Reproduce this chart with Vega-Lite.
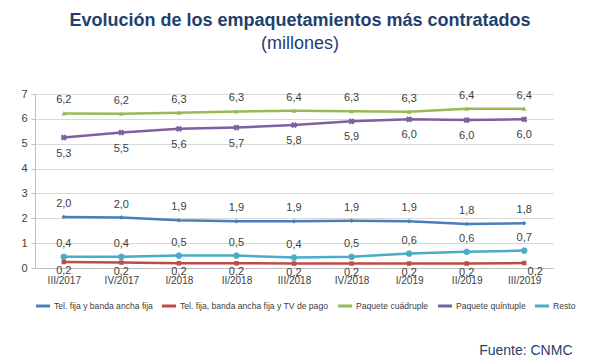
{
  "$schema": "https://vega.github.io/schema/vega-lite/v6.json",
  "width": 518,
  "height": 174,
  "padding": {"left": 20, "top": 12, "right": 40, "bottom": 5},
  "background": "white",
  "config": {
    "font": "Liberation Sans",
    "locale": {"number": {"decimal": ",", "thousands": ".", "grouping": [3], "currency": ["", " €"]}},
    "view": {"stroke": null}
  },
  "title": {
    "text": "Evolución de los empaquetamientos más contratados",
    "subtitle": "(millones)",
    "fontSize": 18,
    "fontWeight": "bold",
    "color": "#1f3f6e",
    "subtitleFontSize": 18,
    "subtitleColor": "#1f3f6e",
    "subtitlePadding": 5,
    "offset": 35,
    "anchor": "middle",
    "dx": 6
  },
  "data": {
    "values": [
      {"p": "III/2017", "s": "Tel. fija y banda ancha fija", "v": 2.05, "l": 2.0},
      {"p": "IV/2017", "s": "Tel. fija y banda ancha fija", "v": 2.03, "l": 2.0},
      {"p": "I/2018", "s": "Tel. fija y banda ancha fija", "v": 1.92, "l": 1.9},
      {"p": "II/2018", "s": "Tel. fija y banda ancha fija", "v": 1.88, "l": 1.9},
      {"p": "III/2018", "s": "Tel. fija y banda ancha fija", "v": 1.88, "l": 1.9},
      {"p": "IV/2018", "s": "Tel. fija y banda ancha fija", "v": 1.9, "l": 1.9},
      {"p": "I/2019", "s": "Tel. fija y banda ancha fija", "v": 1.88, "l": 1.9},
      {"p": "II/2019", "s": "Tel. fija y banda ancha fija", "v": 1.77, "l": 1.8},
      {"p": "III/2019", "s": "Tel. fija y banda ancha fija", "v": 1.8, "l": 1.8},
      {"p": "III/2017", "s": "Tel. fija, banda ancha fija y TV de pago", "v": 0.24, "l": 0.2},
      {"p": "IV/2017", "s": "Tel. fija, banda ancha fija y TV de pago", "v": 0.22, "l": 0.2},
      {"p": "I/2018", "s": "Tel. fija, banda ancha fija y TV de pago", "v": 0.19, "l": 0.2},
      {"p": "II/2018", "s": "Tel. fija, banda ancha fija y TV de pago", "v": 0.19, "l": 0.2},
      {"p": "III/2018", "s": "Tel. fija, banda ancha fija y TV de pago", "v": 0.18, "l": 0.2},
      {"p": "IV/2018", "s": "Tel. fija, banda ancha fija y TV de pago", "v": 0.18, "l": 0.2},
      {"p": "I/2019", "s": "Tel. fija, banda ancha fija y TV de pago", "v": 0.18, "l": 0.2},
      {"p": "II/2019", "s": "Tel. fija, banda ancha fija y TV de pago", "v": 0.18, "l": 0.2},
      {"p": "III/2019", "s": "Tel. fija, banda ancha fija y TV de pago", "v": 0.2, "l": 0.2},
      {"p": "III/2017", "s": "Paquete cuádruple", "v": 6.22, "l": 6.2},
      {"p": "IV/2017", "s": "Paquete cuádruple", "v": 6.21, "l": 6.2},
      {"p": "I/2018", "s": "Paquete cuádruple", "v": 6.25, "l": 6.3},
      {"p": "II/2018", "s": "Paquete cuádruple", "v": 6.3, "l": 6.3},
      {"p": "III/2018", "s": "Paquete cuádruple", "v": 6.33, "l": 6.4},
      {"p": "IV/2018", "s": "Paquete cuádruple", "v": 6.31, "l": 6.3},
      {"p": "I/2019", "s": "Paquete cuádruple", "v": 6.29, "l": 6.3},
      {"p": "II/2019", "s": "Paquete cuádruple", "v": 6.41, "l": 6.4},
      {"p": "III/2019", "s": "Paquete cuádruple", "v": 6.41, "l": 6.4},
      {"p": "III/2017", "s": "Paquete quíntuple", "v": 5.25, "l": 5.3},
      {"p": "IV/2017", "s": "Paquete quíntuple", "v": 5.45, "l": 5.5},
      {"p": "I/2018", "s": "Paquete quíntuple", "v": 5.6, "l": 5.6},
      {"p": "II/2018", "s": "Paquete quíntuple", "v": 5.65, "l": 5.7},
      {"p": "III/2018", "s": "Paquete quíntuple", "v": 5.75, "l": 5.8},
      {"p": "IV/2018", "s": "Paquete quíntuple", "v": 5.9, "l": 5.9},
      {"p": "I/2019", "s": "Paquete quíntuple", "v": 5.98, "l": 6.0},
      {"p": "II/2019", "s": "Paquete quíntuple", "v": 5.95, "l": 6.0},
      {"p": "III/2019", "s": "Paquete quíntuple", "v": 5.98, "l": 6.0},
      {"p": "III/2017", "s": "Resto", "v": 0.45, "l": 0.4},
      {"p": "IV/2017", "s": "Resto", "v": 0.45, "l": 0.4},
      {"p": "I/2018", "s": "Resto", "v": 0.5, "l": 0.5},
      {"p": "II/2018", "s": "Resto", "v": 0.5, "l": 0.5},
      {"p": "III/2018", "s": "Resto", "v": 0.42, "l": 0.4},
      {"p": "IV/2018", "s": "Resto", "v": 0.45, "l": 0.5},
      {"p": "I/2019", "s": "Resto", "v": 0.58, "l": 0.6},
      {"p": "II/2019", "s": "Resto", "v": 0.65, "l": 0.6},
      {"p": "III/2019", "s": "Resto", "v": 0.7, "l": 0.7}
    ]
  },
  "encoding": {
    "x": {
      "field": "p", "type": "ordinal", "sort": null,
      "scale": {"type": "point", "padding": 0.5},
      "axis": {
        "title": "Fuente: CNMC",
        "titleAnchor": "end",
        "titleAlign": "right",
        "titleFontSize": 14,
        "titleFontWeight": "normal",
        "titleColor": "#1f3f6e",
        "titlePadding": 58,
        "titleX": 537,
        "labelAngle": 0,
        "labelFontSize": 10,
        "labelColor": "#404040",
        "labelPadding": 7,
        "ticks": false,
        "domainColor": "#bfbfbf",
        "grid": false
      }
    },
    "y": {
      "field": "v", "type": "quantitative",
      "scale": {"domain": [0, 7], "nice": false},
      "axis": {
        "title": null,
        "values": [0, 1, 2, 3, 4, 5, 6, 7],
        "format": "d",
        "labelFontSize": 11,
        "labelColor": "#404040",
        "gridColor": "#d9d9d9",
        "domainColor": "#bfbfbf",
        "tickColor": "#bfbfbf",
        "tickSize": 4,
        "labelPadding": 4
      }
    },
    "color": {
      "field": "s", "type": "nominal", "sort": null,
      "scale": {
        "domain": ["Tel. fija y banda ancha fija", "Tel. fija, banda ancha fija y TV de pago", "Paquete cuádruple", "Paquete quíntuple", "Resto"],
        "range": ["#4a7ebb", "#be4b48", "#98b954", "#7d60a0", "#4bacc6"]
      },
      "legend": {
        "title": null,
        "orient": "none",
        "direction": "horizontal",
        "legendX": -1,
        "legendY": 203,
        "symbolType": "stroke",
        "symbolStrokeWidth": 3,
        "symbolSize": 200,
        "labelFontSize": 8.6,
        "labelLimit": 400,
        "labelColor": "#404040",
        "columnPadding": 2,
        "labelOffset": 2
      }
    }
  },
  "layer": [
    {"mark": {"type": "line", "strokeWidth": 2.5}},
    {
      "transform": [{"filter": "datum.s === 'Tel. fija y banda ancha fija'"}],
      "mark": {"type": "point", "filled": true, "size": 20, "opacity": 1, "shape": "diamond"}
    },
    {
      "transform": [{"filter": "datum.s === 'Tel. fija, banda ancha fija y TV de pago'"}],
      "mark": {"type": "point", "filled": true, "size": 20, "opacity": 1, "shape": "square"}
    },
    {
      "transform": [{"filter": "datum.s === 'Paquete cuádruple'"}],
      "mark": {"type": "point", "filled": true, "size": 22, "opacity": 1, "shape": "triangle-up"}
    },
    {
      "transform": [{"filter": "datum.s === 'Paquete quíntuple' || datum.s === 'Resto'"}],
      "mark": {"type": "point", "filled": true, "size": 40, "opacity": 1, "shape": "cross", "angle": 45}
    },
    {
      "transform": [{"filter": "datum.s === 'Resto'"}],
      "mark": {"type": "point", "filled": true, "size": 40, "opacity": 1, "shape": "cross"}
    },
    {
      "transform": [{"filter": "datum.s === 'Paquete cuádruple' || datum.s === 'Tel. fija y banda ancha fija' || datum.s === 'Resto'"}],
      "mark": {"type": "text", "dy": -13, "fontSize": 11},
      "encoding": {"text": {"field": "l", "type": "quantitative", "format": ".1f"}, "color": {"value": "#404040"}}
    },
    {
      "transform": [{"filter": "datum.s === 'Paquete quíntuple'"}],
      "mark": {"type": "text", "dy": 16, "fontSize": 11},
      "encoding": {"text": {"field": "l", "type": "quantitative", "format": ".1f"}, "color": {"value": "#404040"}}
    },
    {
      "transform": [{"filter": "datum.s === 'Tel. fija, banda ancha fija y TV de pago' && datum.p !== 'III/2019'"}],
      "mark": {"type": "text", "dy": 9, "fontSize": 11},
      "encoding": {"text": {"field": "l", "type": "quantitative", "format": ".1f"}, "color": {"value": "#404040"}}
    },
    {
      "transform": [{"filter": "datum.s === 'Tel. fija, banda ancha fija y TV de pago' && datum.p === 'III/2019'"}],
      "mark": {"type": "text", "dy": 9, "dx": 11, "fontSize": 11},
      "encoding": {"text": {"field": "l", "type": "quantitative", "format": ".1f"}, "color": {"value": "#404040"}}
    }
  ]
}
